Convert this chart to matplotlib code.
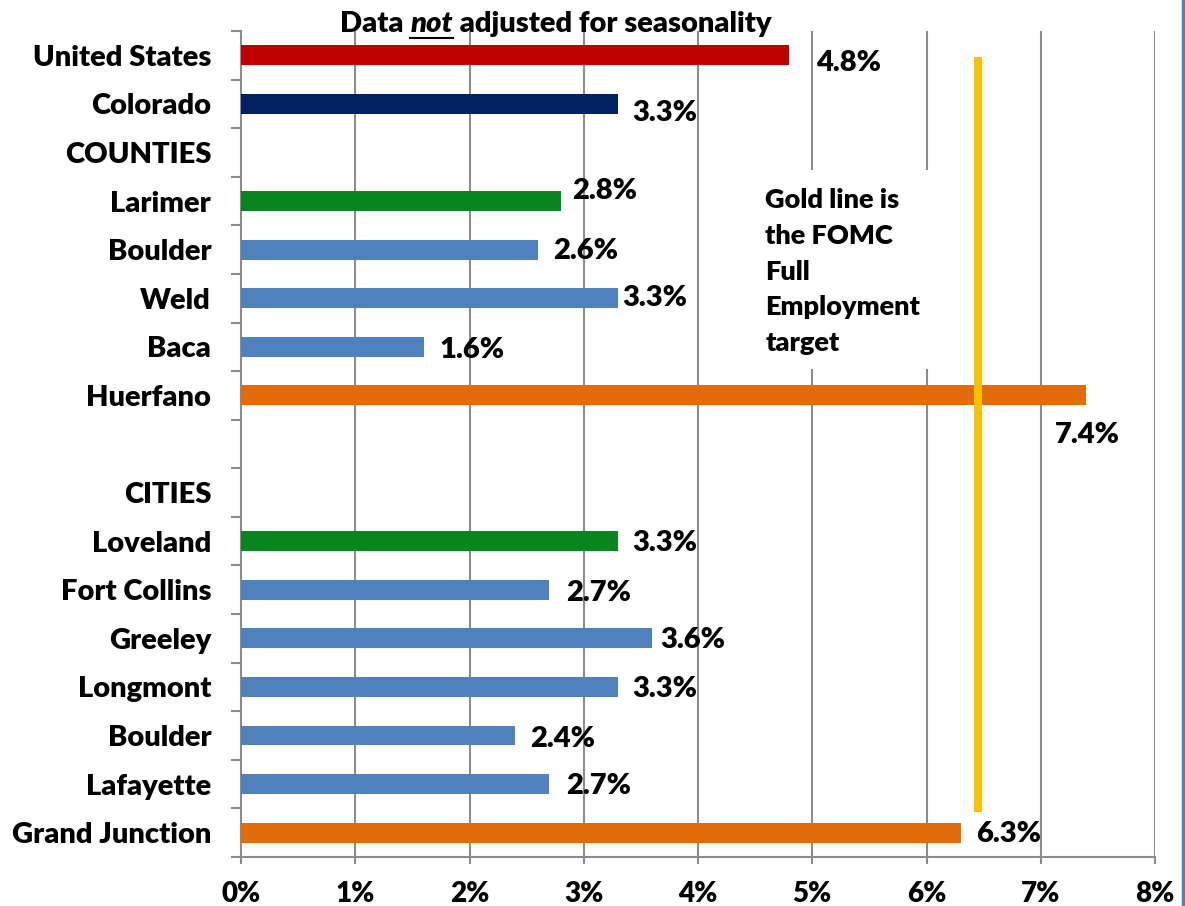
import matplotlib
matplotlib.use("Agg")
import matplotlib.pyplot as plt
from matplotlib.lines import Line2D
from matplotlib.patches import Rectangle
import numpy as np

plt.rcParams['font.family'] = ['Lato', 'DejaVu Sans']
plt.rcParams['font.weight'] = 'heavy'

# rows from top to bottom, None = heading / spacer row without a bar
categories = ["United States", "Colorado", "COUNTIES", "Larimer", "Boulder", "Weld",
              "Baca", "Huerfano", "", "CITIES", "Loveland", "Fort Collins", "Greeley",
              "Longmont", "Boulder", "Lafayette", "Grand Junction"]
rates = [4.8, 3.3, None, 2.8, 2.6, 3.3, 1.6, 7.4, None, None,
         3.3, 2.7, 3.6, 3.3, 2.4, 2.7, 6.3]
bar_colors = ["#C00000", "#002060", None, "#09851F", "#4F81BD", "#4F81BD", "#4F81BD",
              "#E36C0A", None, None, "#09851F", "#4F81BD", "#4F81BD", "#4F81BD",
              "#4F81BD", "#4F81BD", "#E36C0A"]
fomc_target = 6.45
xticks = [0, 1, 2, 3, 4, 5, 6, 7, 8]

# label nudges in pixels (dx, dy), dy positive = down
label_nudge = [(27, 8), (14, 9), None, (11, -10), (15, 1), (4, 0), (16, 3), (-32, 40),
               None, None, (14, 2), (17, 3), (8, 2), (14, 2), (15, 3), (17, 2), (15, 1)]

W = 'heavy'
fig = plt.figure(figsize=(11.85, 9.06), dpi=100)
ax = fig.add_axes([241/1185, 1-857/906, (1155-241)/1185, (857-31)/906])

n = len(categories)
ypos = np.arange(n)
for i in range(n):
    if rates[i] is not None:
        ax.barh(ypos[i], rates[i], height=0.41, color=bar_colors[i], zorder=3)

ax.set_xlim(0, 8)
ax.set_ylim(n - 0.5, -0.5)

ax.set_xticks(xticks)
ax.set_xticklabels(["{}%".format(t) for t in xticks], fontsize=20, fontweight=W)
ax.set_yticks(ypos)
ax.set_yticklabels(categories, fontsize=21, fontweight=W)
ax.set_yticks(np.arange(n + 1) - 0.5, minor=True)
ax.tick_params(axis='y', which='major', length=0, pad=21.5)
ax.tick_params(axis='y', which='minor', length=7, width=1.5, color='#8C8C8C')
ax.tick_params(axis='x', length=5, width=1.5, color='#8C8C8C', pad=12)

for s in ['top', 'right']:
    ax.spines[s].set_visible(False)
for s in ['left', 'bottom']:
    ax.spines[s].set_color('#8C8C8C')
    ax.spines[s].set_linewidth(1.5)

for t in xticks[1:]:
    ax.axvline(t, color='#8C8C8C', lw=1.5, zorder=1)

# white box behind the note
ax.add_patch(Rectangle((4.45, 2.36), 2.1, 4.09, facecolor='white', edgecolor='none', zorder=2))
ax.text(4.59, 2.74, "Gold line is\nthe FOMC\nFull\nEmployment\ntarget", fontsize=19.5,
        fontweight=W, va='top', ha='left', linespacing=1.58, zorder=4)

ax.axvline(fomc_target, ymin=1-(812-31)/826, ymax=1-(57-31)/826, color='#FFC000',
           lw=5.8, solid_capstyle='butt', zorder=5)

for i in range(n):
    if rates[i] is None:
        continue
    dx, dy = label_nudge[i]
    ax.annotate("{:.1f}%".format(rates[i]), (rates[i], ypos[i]), xytext=(dx*0.72, -dy*0.72),
                textcoords='offset points', va='center', ha='left', fontsize=21,
                fontweight=W, zorder=6)

# title with italic underlined "not"
fig.canvas.draw()
r = fig.canvas.get_renderer()
parts = [("Data ", 'normal'), ("not", 'italic'), (" adjusted for seasonality", 'normal')]
x0 = 340
texts = []
for s, style in parts:
    t = fig.text(x0/1185, 1-24/906, s, fontsize=21, fontweight=W, fontstyle=style,
                 va='center', ha='left')
    bb = t.get_window_extent(r)
    texts.append((t, bb))
    x0 += bb.width
bb = texts[1][1]
fig.add_artist(Line2D([bb.x0/1185, bb.x1/1185], [1-38/906, 1-38/906], color='black',
                      lw=1.5, transform=fig.transFigure))

# right side border of the chart
fig.add_artist(Line2D([1183/1185, 1183/1185], [0, 1], color='#4F81BD', lw=2.5,
                      transform=fig.transFigure))

fig.savefig("out.png", dpi=100)
